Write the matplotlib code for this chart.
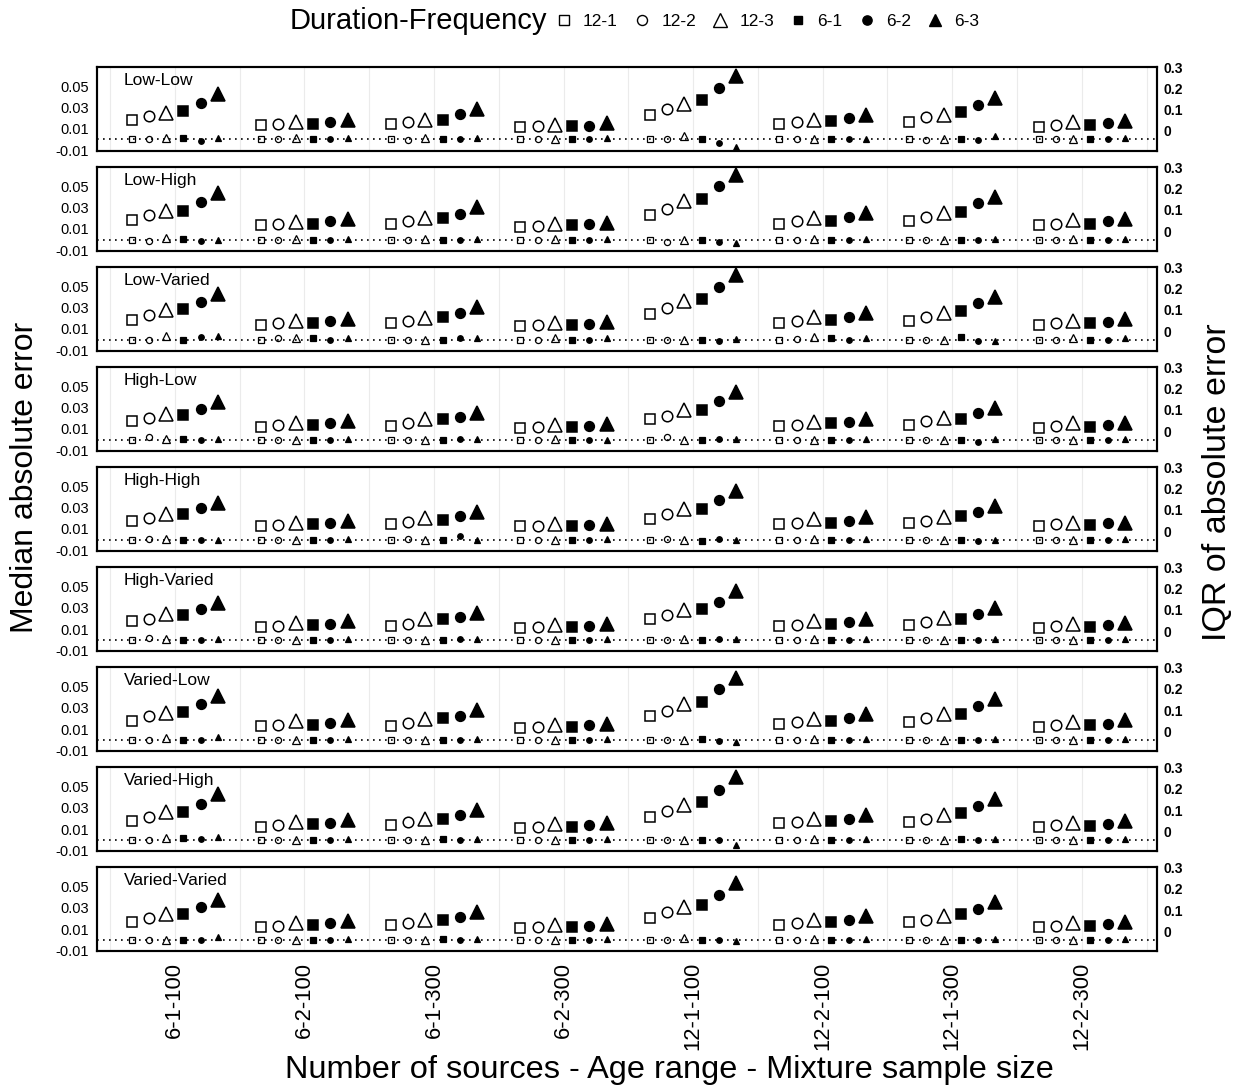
import matplotlib.pyplot as plt
from matplotlib.lines import Line2D
import numpy as np

plt.rcParams['font.family'] = ['Liberation Sans', 'DejaVu Sans']

groups = ['6-1-100', '6-2-100', '6-1-300', '6-2-300', '12-1-100', '12-2-100', '12-1-300', '12-2-300']
series = ['12-1', '12-2', '12-3', '6-1', '6-2', '6-3']
panels = ['Low-Low', 'Low-High', 'Low-Varied', 'High-Low', 'High-High', 'High-Varied',
          'Varied-Low', 'Varied-High', 'Varied-Varied']

# IQR of absolute error (large markers, right axis): rows = groups, cols = series
iqr_low_low = [[0.051, 0.071, 0.086, 0.094, 0.132, 0.175],
               [0.028, 0.032, 0.040, 0.032, 0.040, 0.052],
               [0.032, 0.043, 0.054, 0.054, 0.079, 0.102],
               [0.017, 0.022, 0.029, 0.025, 0.025, 0.037],
               [0.074, 0.102, 0.129, 0.144, 0.204, 0.259],
               [0.032, 0.043, 0.054, 0.048, 0.060, 0.074],
               [0.043, 0.064, 0.075, 0.089, 0.124, 0.155],
               [0.020, 0.028, 0.040, 0.029, 0.037, 0.048]]
iqr_low_high = [[0.053, 0.076, 0.094, 0.096, 0.137, 0.177],
                [0.026, 0.033, 0.042, 0.033, 0.045, 0.056],
                [0.034, 0.046, 0.060, 0.060, 0.080, 0.114],
                [0.019, 0.023, 0.034, 0.026, 0.033, 0.040],
                [0.076, 0.106, 0.140, 0.149, 0.211, 0.264],
                [0.034, 0.046, 0.063, 0.048, 0.068, 0.083],
                [0.045, 0.068, 0.086, 0.091, 0.130, 0.160],
                [0.026, 0.034, 0.053, 0.033, 0.045, 0.056]]
iqr_low_varied = [[0.053, 0.076, 0.099, 0.102, 0.137, 0.176],
                  [0.030, 0.036, 0.048, 0.037, 0.048, 0.059],
                  [0.036, 0.048, 0.063, 0.068, 0.083, 0.114],
                  [0.022, 0.028, 0.037, 0.028, 0.033, 0.043],
                  [0.079, 0.110, 0.140, 0.151, 0.210, 0.266],
                  [0.037, 0.048, 0.066, 0.051, 0.068, 0.086],
                  [0.048, 0.066, 0.086, 0.094, 0.130, 0.163],
                  [0.028, 0.036, 0.048, 0.036, 0.045, 0.059]]
iqr_high_low = [[0.048, 0.062, 0.079, 0.077, 0.104, 0.135],
                [0.020, 0.028, 0.040, 0.028, 0.036, 0.048],
                [0.025, 0.036, 0.059, 0.056, 0.066, 0.085],
                [0.013, 0.020, 0.031, 0.020, 0.025, 0.033],
                [0.056, 0.071, 0.100, 0.100, 0.143, 0.184],
                [0.025, 0.031, 0.043, 0.036, 0.043, 0.059],
                [0.031, 0.048, 0.063, 0.059, 0.085, 0.110],
                [0.016, 0.025, 0.036, 0.020, 0.028, 0.039]]
iqr_high_high = [[0.048, 0.063, 0.082, 0.079, 0.110, 0.135],
                 [0.025, 0.030, 0.040, 0.033, 0.040, 0.048],
                 [0.033, 0.043, 0.060, 0.053, 0.070, 0.091],
                 [0.022, 0.026, 0.036, 0.026, 0.030, 0.036],
                 [0.059, 0.079, 0.104, 0.104, 0.145, 0.189],
                 [0.033, 0.037, 0.056, 0.037, 0.048, 0.066],
                 [0.037, 0.048, 0.066, 0.071, 0.090, 0.117],
                 [0.025, 0.033, 0.040, 0.030, 0.037, 0.040]]
iqr_high_varied = [[0.048, 0.059, 0.082, 0.074, 0.104, 0.135],
                   [0.020, 0.025, 0.040, 0.028, 0.036, 0.048],
                   [0.025, 0.036, 0.059, 0.056, 0.066, 0.085],
                   [0.013, 0.020, 0.031, 0.020, 0.025, 0.033],
                   [0.056, 0.074, 0.100, 0.104, 0.140, 0.189],
                   [0.025, 0.031, 0.046, 0.036, 0.043, 0.059],
                   [0.031, 0.045, 0.063, 0.059, 0.083, 0.111],
                   [0.016, 0.025, 0.036, 0.020, 0.028, 0.039]]
iqr_varied_low = [[0.048, 0.070, 0.086, 0.093, 0.128, 0.166],
                  [0.023, 0.031, 0.046, 0.031, 0.039, 0.054],
                  [0.025, 0.039, 0.056, 0.062, 0.071, 0.102],
                  [0.016, 0.020, 0.031, 0.020, 0.028, 0.036],
                  [0.074, 0.097, 0.128, 0.139, 0.200, 0.251],
                  [0.036, 0.043, 0.059, 0.046, 0.062, 0.079],
                  [0.043, 0.062, 0.082, 0.082, 0.120, 0.151],
                  [0.020, 0.028, 0.043, 0.028, 0.036, 0.051]]
iqr_varied_high = [[0.048, 0.068, 0.091, 0.091, 0.130, 0.174],
                   [0.022, 0.028, 0.043, 0.033, 0.040, 0.053],
                   [0.028, 0.043, 0.059, 0.060, 0.079, 0.102],
                   [0.014, 0.022, 0.033, 0.020, 0.028, 0.037],
                   [0.068, 0.097, 0.125, 0.140, 0.194, 0.256],
                   [0.037, 0.045, 0.056, 0.048, 0.060, 0.079],
                   [0.045, 0.060, 0.079, 0.086, 0.117, 0.151],
                   [0.020, 0.028, 0.040, 0.025, 0.036, 0.048]]
iqr_varied_varied = [[0.043, 0.062, 0.080, 0.080, 0.115, 0.150],
                     [0.019, 0.026, 0.039, 0.028, 0.039, 0.050],
                     [0.028, 0.039, 0.054, 0.051, 0.066, 0.092],
                     [0.016, 0.019, 0.028, 0.019, 0.023, 0.034],
                     [0.062, 0.090, 0.115, 0.123, 0.173, 0.228],
                     [0.028, 0.039, 0.051, 0.043, 0.054, 0.073],
                     [0.043, 0.054, 0.073, 0.080, 0.103, 0.139],
                     [0.019, 0.026, 0.039, 0.023, 0.036, 0.046]]

# Median absolute error (small markers, left axis)
med_low_low = [[0, 0, 0.001, 0.0015, -0.0015, 0.001],
               [0, 0, 0.001, 0, 0, 0.001],
               [0, -0.0005, 0.001, 0, 0, 0.001],
               [0, 0, 0, 0, 0, 0.001],
               [0.0005, 0, 0.003, 0, -0.003, -0.0075],
               [0, 0, 0, 0, 0, 0.0005],
               [0, -0.0003, 0.0005, 0, -0.0007, 0.003],
               [0, 0, 0.0005, 0, 0, 0.001]]
med_low_high = [[0, -0.001, 0.001, 0.0005, -0.001, 0],
                [0, 0, 0.0005, 0, 0, 0.0005],
                [0, 0, 0.0005, 0, 0, 0.0005],
                [0, 0, 0.0005, 0, 0, 0.0005],
                [0, -0.002, 0, 0, -0.002, -0.0035],
                [0, 0, 0.0005, 0, 0, 0.0005],
                [0, 0, 0, 0, 0, 0.0005],
                [0, 0, 0.0005, 0, 0, 0.0005]]
med_low_varied = [[0, 0, 0.003, 0, 0.0025, 0.003],
                  [0, 0.001, 0.001, 0.001, 0, 0.001],
                  [0, 0, 0, 0, 0.001, 0.0015],
                  [0, 0, 0.001, 0, 0, 0.001],
                  [0, 0, 0, -0.0005, -0.001, 0.0005],
                  [0, 0.0005, 0.002, 0.001, 0, 0.001],
                  [0, 0, 0, 0.0025, -0.001, -0.001],
                  [0, 0, 0.001, 0, 0, 0.001]]
med_high_low = [[0, 0.002, 0.001, 0.001, 0, 0.0005],
                [0, 0, 0, 0, 0, 0.0005],
                [0, 0, 0, 0, 0.001, 0.001],
                [0, 0, 0.0005, -0.0005, -0.0005, 0],
                [0, 0.002, 0, 0, 0.001, 0.001],
                [0, 0, 0, 0, 0, 0.0005],
                [0, 0, 0, 0, -0.002, 0.001],
                [0, 0, 0, 0, 0, 0.0005]]
med_high_high = [[0, 0.001, 0.0005, 0, 0, 0],
                 [0, 0, 0, 0, 0, 0.0005],
                 [0, 0.001, -0.0005, 0, 0.0035, 0],
                 [0, 0, 0, 0, 0, 0.0005],
                 [0, 0.0005, 0, -0.001, 0.001, 0],
                 [0, 0, 0.001, 0, 0, 0.001],
                 [0, 0, 0, 0, -0.001, 0],
                 [0, 0, 0, 0, 0, 0.0005]]
med_high_varied = [[0, 0.002, 0.001, -0.0005, 0, 0.0005],
                   [0, 0, 0, 0, 0, 0.0005],
                   [0, -0.0005, 0, 0, 0.001, 0.001],
                   [0, 0, 0, 0, 0, 0.0005],
                   [0, 0, 0.0005, -0.0005, 0.0005, 0.0005],
                   [0, 0, 0.0005, 0, 0, 0.0005],
                   [0, 0, 0, 0, 0, 0.0005],
                   [0, 0, 0, 0, 0, 0.0005]]
med_varied_low = [[0, 0, 0.002, 0, 0, 0.003],
                  [0, 0, 0, 0, 0, 0.001],
                  [0, 0, 0, 0, 0, 0.0005],
                  [0, 0, 0, 0, 0, 0.001],
                  [0, 0, 0, 0.0005, -0.0015, -0.002],
                  [0, 0, 0.001, 0, 0, 0.001],
                  [0, 0, 0, 0, 0, 0.0005],
                  [0, 0, 0, 0, 0, 0.001]]
med_varied_high = [[0, 0, 0.0015, 0.002, 0.001, 0.003],
                   [0, 0, 0, 0, 0, 0.0005],
                   [0, 0, 0, 0.001, 0, 0.001],
                   [0, 0, 0, 0, 0, 0.0005],
                   [0, 0, 0, 0, 0, -0.0045],
                   [0, 0, 0.001, 0, 0, 0.001],
                   [0, 0, 0, 0.001, 0, 0.001],
                   [0, 0, 0, 0, 0, 0.0005]]
med_varied_varied = [[0, 0, 0, 0, 0, 0.0025],
                     [0, 0, 0, 0, 0, 0.0005],
                     [0, 0, 0, 0.0005, 0, 0.0005],
                     [0, 0, 0, 0, 0, 0.0005],
                     [0, 0, 0.002, 0, 0, -0.0015],
                     [0, 0, 0.0005, 0, 0, 0.0005],
                     [0, 0, 0, 0, 0, 0.0005],
                     [0, 0, 0, 0, 0, 0.0005]]

iqr_all = [iqr_low_low, iqr_low_high, iqr_low_varied, iqr_high_low, iqr_high_high,
           iqr_high_varied, iqr_varied_low, iqr_varied_high, iqr_varied_varied]
med_all = [med_low_low, med_low_high, med_low_varied, med_high_low, med_high_high,
           med_high_varied, med_varied_low, med_varied_high, med_varied_varied]

# marker, fill, big size, small size
styles = [('s', 'none', 7.5, 4.6), ('o', 'none', 7.6, 4.4), ('^', 'none', 10.0, 5.8),
          ('s', 'black', 6.8, 3.9), ('o', 'black', 7.0, 4.0), ('^', 'black', 9.5, 5.0)]

x = np.arange(1, len(groups) + 1)
step = 0.1335

fig = plt.figure(figsize=(12.39, 10.87), dpi=100)
gs = fig.add_gridspec(9, 1, left=0.0783, right=0.9338, top=0.9384, bottom=0.1251, hspace=0.195)

for p, name in enumerate(panels):
    ax = fig.add_subplot(gs[p])
    ax2 = ax.twinx()
    iqr = np.array(iqr_all[p])
    med = np.array(med_all[p])

    ax.set_xlim(0.4, 8.58)
    ax.set_ylim(-0.0105, 0.068)
    ax2.set_ylim(-0.093, 0.302)

    ax.set_xticks(x)
    ax.set_xticks(np.arange(0.5, 9, 1), minor=True)
    ax.grid(True, which='both', axis='x', color='#ebebeb', lw=0.8)
    ax.set_axisbelow(True)
    ax.axhline(0, color='black', ls=(0, (1, 2.6)), lw=1.2, zorder=1)

    for k, (m, fc, big, small) in enumerate(styles):
        xs = x + (k - 2.5) * step
        ax.plot(xs, med[:, k], ls='none', marker=m, mfc=fc, mec='black', mew=0.9,
                ms=small, zorder=3)
        ax2.plot(xs, iqr[:, k], ls='none', marker=m, mfc=fc, mec='black', mew=1.1,
                 ms=big, zorder=3)

    ax.set_yticks([-0.01, 0.01, 0.03, 0.05])
    ax.set_yticklabels(['-0.01', '0.01', '0.03', '0.05'])
    ax2.set_yticks([0, 0.1, 0.2, 0.3])
    ax2.set_yticklabels(['0', '0.1', '0.2', '0.3'])
    ax.tick_params(axis='y', length=0, pad=6, labelsize=10.5)
    ax2.tick_params(axis='y', length=0, pad=5, labelsize=10)
    for lab in ax2.get_yticklabels():
        lab.set_fontweight('bold')
    for s in ax.spines.values():
        s.set_linewidth(1.5)
    for s in ax2.spines.values():
        s.set_linewidth(1.5)

    if p == len(panels) - 1:
        ax.set_xticklabels(groups, rotation=90, fontsize=15.8)
        ax.tick_params(axis='x', which='both', length=0, pad=8)
    else:
        ax.set_xticklabels([])
        ax.tick_params(axis='x', which='both', length=0)
    ax.tick_params(axis='x', which='minor', length=0)

    ax.text(0.025, 0.84, name, transform=ax.transAxes, fontsize=12.5, va='center')

fig.text(0.020, 0.561, 'Median absolute error', rotation=90, ha='center', va='center', fontsize=23)
fig.text(0.983, 0.556, 'IQR of absolute error', rotation=90, ha='center', va='center', fontsize=24.5)
fig.text(0.540, 0.016, 'Number of sources - Age range - Mixture sample size',
         ha='center', va='center', fontsize=23.4)

fig.text(290 / 1239, 1 - 21 / 1087, 'Duration-Frequency', ha='left', va='center', fontsize=21)
handles = [Line2D([], [], ls='none', marker=m, mfc=fc, mec='black', mew=1.0,
                  ms=big * 0.95) for (m, fc, big, small) in styles]
fig.legend(handles, series, loc='center left', bbox_to_anchor=(556 / 1239, 1 - 21 / 1087),
           ncol=6, frameon=False, fontsize=12.5, handlelength=0.9, handletextpad=0.65,
           columnspacing=0.95, borderpad=0, borderaxespad=0)

fig.savefig('out.png', dpi=100)
